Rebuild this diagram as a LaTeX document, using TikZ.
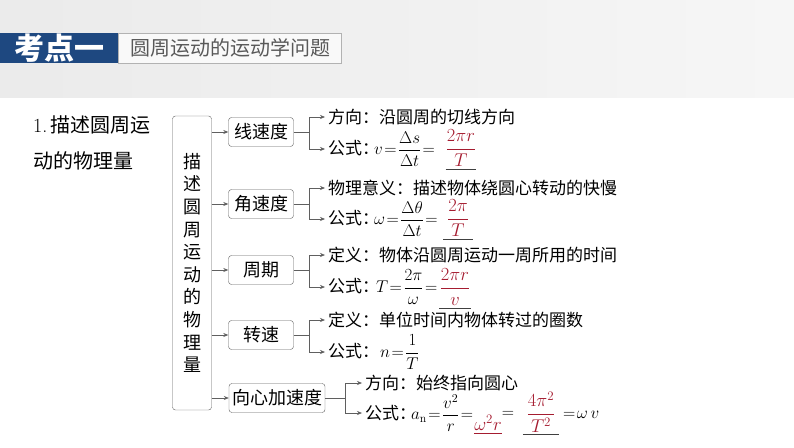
\RequirePackage{fix-cm}
\documentclass[tikz,border=0pt]{standalone}
\usepackage{amsmath}
\usepackage{fontspec}
\newfontfamily\cjk{Noto Sans CJK SC}
\usetikzlibrary{arrows.meta,positioning,calc}
\definecolor{hdblue}{RGB}{30,72,128}
\definecolor{ansred}{RGB}{165,28,48}
\definecolor{linegray}{RGB}{95,95,95}
\tikzset{
	box/.style={draw=linegray, rounded corners=3pt, inner sep=2pt, minimum height=29, font=\cjk\fontsize{18}{18}\selectfont},
	item/.style={anchor=west, inner xsep=3pt, inner ysep=0pt, font=\cjk\fontsize{17}{17}\selectfont},
	formula/.style={item, execute at begin node={\thickmuskip=1.5mu\medmuskip=1mu}},
	answer/.style={text=ansred, inner xsep=0pt, inner ysep=2pt, font=\fontsize{18.5}{18.5}\selectfont},
	edge/.style={color=linegray, semithick},
	diredge/.style={->,>={Stealth[width=4pt,length=5pt]},color=linegray, semithick}
}

\begin{document}
\begin{tikzpicture}[x=1pt,y=-1pt]
	\useasboundingbox (0,0) rectangle (794,447);
	%%%header
	\shade[left color=gray!16, right color=gray!7] (0,0) rectangle (794,97);
	\node[fill=hdblue, minimum width=118, minimum height=30, inner sep=0, anchor=west, text=white, font=\cjk\bfseries\fontsize{30}{30}\selectfont] (kd) at (0,48) {考点一};
	\node[draw=gray!60, fill=gray!5, minimum width=223, minimum height=30, inner sep=0, anchor=west, text=black!65, font=\cjk\fontsize{20}{20}\selectfont] (topic) at (kd.east) {圆周运动的运动学问题};
	
	%%%left
	\node[anchor=west, align=left, inner sep=0, font=\cjk\fontsize{20}{36}\selectfont] (title) at (33,143) {{\rmfamily 1.}\,描述圆周运\\动的物理量};
	\node[box, minimum width=39, minimum height=294, align=center, font=\cjk\fontsize{18}{22.6}\selectfont] (vbox) at (192,263) {描\\述\\圆\\周\\运\\动\\的\\物\\理\\量};
	
	\node[box, minimum width=65] (xsd) at (261,132) {线速度};
	\node[box, minimum width=65] (jsd) at (261,204) {角速度};
	\node[box, minimum width=65] (zq) at (261,270) {周期};
	\node[box, minimum width=65] (zs) at (261,335) {转速};
	\node[box, minimum width=96] (xxa) at (277,398) {向心加速度};
	\foreach \b in {xsd,jsd,zq,zs,xxa}
		\draw[diredge] (vbox.east |- \b) -- (\b);
	
	%%%leaves
	\node[item] (dir1) at (325,117) {方向：沿圆周的切线方向};
	\node[formula] (for1) at (325,149) {公式：\kern-5pt$v=\dfrac{\Delta s}{\Delta t}=$};
	\node[item] (mean2) at (325,188) {物理意义：描述物体绕圆心转动的快慢};
	\node[formula] (for2) at (325,219) {公式：\kern-5pt$\omega=\dfrac{\Delta\theta}{\Delta t}=$};
	\node[item] (def3) at (325,255) {定义：物体沿圆周运动一周所用的时间};
	\node[formula] (for3) at (325,287) {公式：\kern-3pt$T=\dfrac{2\pi}{\omega}=$};
	\node[item] (def4) at (325,320) {定义：单位时间内物体转过的圈数};
	\node[formula] (for4) at (325,352) {公式：\kern1pt$n=\dfrac{1}{T}$};
	\node[item] (dir5) at (362,383) {方向：始终指向圆心};
	\node[formula] (for5) at (362,413) {公式：\kern-5pt$a_{\mathrm{n}}=\dfrac{v^2}{r}=$};
	
	\coordinate (j1) at (309,132);
	\coordinate (j2) at (309,204);
	\coordinate (j3) at (309,270);
	\coordinate (j4) at (309,335);
	\coordinate (j5) at (345,398);
	\draw[edge] (xsd) -- (j1);
	\draw[edge] (jsd) -- (j2);
	\draw[edge] (zq) -- (j3);
	\draw[edge] (zs) -- (j4);
	\draw[edge] (xxa) -- (j5);
	\draw[diredge] (j1) |- (dir1.west);
	\draw[diredge] (j1) |- (for1.west);
	\draw[diredge] (j2) |- (mean2.west);
	\draw[diredge] (j2) |- (for2.west);
	\draw[diredge] (j3) |- (def3.west);
	\draw[diredge] (j3) |- (for3.west);
	\draw[diredge] (j4) |- (def4.west);
	\draw[diredge] (j4) |- (for4.west);
	\draw[diredge] (j5) |- (dir5.west);
	\draw[diredge] (j5) |- (for5.west);
	
	%%%answers
	\node[answer, minimum width=29] (ans1) at (461,148) {$\dfrac{2\pi r}{T}$};
	\node[answer, minimum width=29] (ans2) at (458,218) {$\dfrac{2\pi}{T}$};
	\node[answer, minimum width=31] (ans3) at (455,287) {$\dfrac{2\pi r}{v}$};
	\node[answer, minimum width=28] (ans4) at (488,423) {$\omega^2 r$};
	\node[inner sep=0, font=\fontsize{17}{17}\selectfont] (eq1) at (508,414) {$=$};
	\node[answer, minimum width=36] (ans5) at (541,412) {$\dfrac{4\pi^2}{T^2}$};
	\node[formula, inner xsep=0] (last) at (563,415) {$=\omega\,v$};
	\foreach \a in {ans1,ans2,ans3,ans5}
		\draw[black!75] (\a.south west) -- (\a.south east);
	\draw[ansred] (ans4.south west) -- (ans4.south east);
\end{tikzpicture}
\end{document}
